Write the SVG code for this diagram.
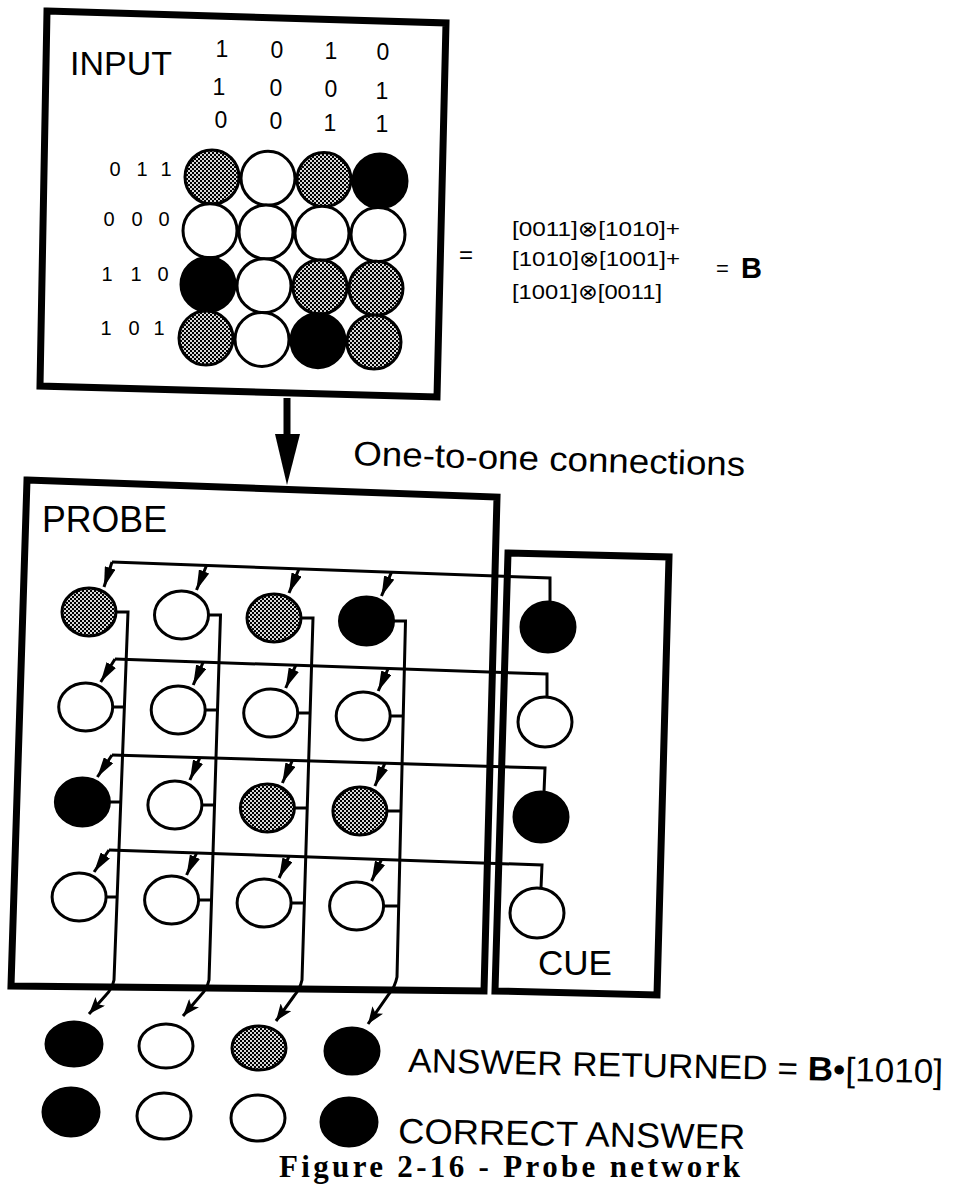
<svg xmlns="http://www.w3.org/2000/svg" width="960" height="1186" viewBox="0 0 960 1186">
<defs>
<pattern id="halftone" width="4" height="4" patternUnits="userSpaceOnUse">
<rect width="4" height="4" fill="#d8d8d8"/>
<rect width="2" height="2" fill="#000"/>
<rect x="2" y="2" width="2" height="2" fill="#000"/>
</pattern>
<marker id="wedge" viewBox="0 0 20 11" refX="20" refY="5.5" markerWidth="20" markerHeight="11" markerUnits="userSpaceOnUse" orient="auto"><path d="M0,0 L20,5.5 L0,11 z" fill="#000"/></marker>
<marker id="ans" viewBox="0 0 17 13" refX="17" refY="6.5" markerWidth="17" markerHeight="13" markerUnits="userSpaceOnUse" orient="auto"><path d="M0,0 L17,6.5 L0,13 L4,6.5 z" fill="#000"/></marker>
</defs>
<style>
.box{fill:none;stroke:#000;stroke-width:7;stroke-linejoin:miter}
.c{stroke:#000;stroke-width:3}
.w{fill:#fff}.b{fill:#000}.g{fill:url(#halftone)}
.ln{fill:none;stroke:#000;stroke-width:3}
.t{font-family:"Liberation Sans",Arial,"DejaVu Sans",sans-serif;fill:#000}
.cap{font-family:"Liberation Serif","Times New Roman",serif;font-weight:bold;fill:#000}
.d{font-size:23px;text-anchor:middle}
.r{font-size:20px;text-anchor:middle}
</style>
<rect width="960" height="1186" fill="#fff"/>

<g id="input">
<path class="box" d="M47 11 L446 23 L437 397 L40 386 Z"/>
<text class="t" x="70" y="75" font-size="33" textLength="102" lengthAdjust="spacingAndGlyphs">INPUT</text>
<g class="t d">
<text x="222" y="57">1</text><text x="277" y="58">0</text><text x="331" y="59">1</text><text x="383" y="60">0</text>
<text x="219" y="95">1</text><text x="276" y="96">0</text><text x="331" y="97">0</text><text x="382" y="99">1</text>
<text x="221" y="128">0</text><text x="276" y="129">0</text><text x="330" y="131">1</text><text x="382" y="132">1</text>
</g>
<g class="t r">
<text x="115" y="176">0</text><text x="142" y="176">1</text><text x="166" y="176">1</text>
<text x="109" y="226">0</text><text x="137" y="226">0</text><text x="164" y="226">0</text>
<text x="107" y="281">1</text><text x="136" y="281">1</text><text x="163" y="281">0</text>
<text x="106" y="335">1</text><text x="134" y="335">0</text><text x="159" y="335">1</text>
</g>
<circle class="c g" cx="212" cy="177" r="27"/><circle class="c w" cx="268" cy="178.3" r="27"/><circle class="c g" cx="324" cy="179.6" r="27"/><circle class="c b" cx="380" cy="180.9" r="27"/>
<circle class="c w" cx="210" cy="230.7" r="27"/><circle class="c w" cx="266" cy="232" r="27"/><circle class="c w" cx="322" cy="233.3" r="27"/><circle class="c w" cx="378" cy="234.6" r="27"/>
<circle class="c b" cx="208" cy="284.4" r="27"/><circle class="c w" cx="264" cy="285.7" r="27"/><circle class="c g" cx="320" cy="287" r="27"/><circle class="c g" cx="376" cy="288.3" r="27"/>
<circle class="c g" cx="206" cy="338.1" r="27"/><circle class="c w" cx="262" cy="339.4" r="27"/><circle class="c b" cx="318" cy="340.7" r="27"/><circle class="c g" cx="374" cy="342" r="27"/>
</g>

<g id="equation" class="t">
<text x="459" y="263" font-size="24">=</text>
<text x="512" y="236" font-size="21" textLength="168" lengthAdjust="spacingAndGlyphs">[0011]⊗[1010]+</text>
<text x="512" y="266" font-size="21" textLength="168" lengthAdjust="spacingAndGlyphs">[1010]⊗[1001]+</text>
<text x="512" y="299" font-size="21" textLength="150" lengthAdjust="spacingAndGlyphs">[1001]⊗[0011]</text>
<text x="716" y="276" font-size="22">=</text>
<text x="741" y="278" font-size="29" font-weight="bold">B</text>
</g>

<g id="probe">
<path class="box" d="M27 480 L497 497 L484 991 L11 986 Z" stroke-width="8"/>
<text class="t" x="42" y="532" font-size="36" textLength="125" lengthAdjust="spacingAndGlyphs">PROBE</text>
<ellipse class="c g" cx="89" cy="612" rx="27" ry="24"/><ellipse class="c w" cx="181.5" cy="615" rx="27" ry="24"/><ellipse class="c g" cx="274" cy="618" rx="27" ry="24"/><ellipse class="c b" cx="366.5" cy="621" rx="27" ry="24"/>
<ellipse class="c w" cx="85.7" cy="707" rx="27" ry="24"/><ellipse class="c w" cx="178.2" cy="710" rx="27" ry="24"/><ellipse class="c w" cx="270.7" cy="713" rx="27" ry="24"/><ellipse class="c w" cx="363.2" cy="716" rx="27" ry="24"/>
<ellipse class="c b" cx="82.4" cy="802" rx="27" ry="24"/><ellipse class="c w" cx="174.9" cy="805" rx="27" ry="24"/><ellipse class="c g" cx="267.4" cy="808" rx="27" ry="24"/><ellipse class="c g" cx="359.9" cy="811" rx="27" ry="24"/>
<ellipse class="c w" cx="79.1" cy="897" rx="27" ry="24"/><ellipse class="c w" cx="171.6" cy="900" rx="27" ry="24"/><ellipse class="c w" cx="264.1" cy="903" rx="27" ry="24"/><ellipse class="c w" cx="356.6" cy="906" rx="27" ry="24"/>
</g>

<g id="cue">
<path class="box" d="M508 553 L669 557 L657 995 L495 991 Z" stroke-width="8"/>
<text class="t" x="538" y="975" font-size="35" textLength="74" lengthAdjust="spacingAndGlyphs">CUE</text>
<ellipse class="c b" cx="548" cy="627" rx="27" ry="25"/>
<ellipse class="c w" cx="545" cy="722" rx="27" ry="25"/>
<ellipse class="c b" cx="541" cy="817" rx="27" ry="25"/>
<ellipse class="c w" cx="537" cy="913" rx="27" ry="25"/>
</g>

<g id="answer-returned">
<ellipse class="c b" cx="74" cy="1044" rx="28" ry="22"/>
<ellipse class="c w" cx="166" cy="1046" rx="27" ry="22"/>
<ellipse class="c g" cx="259" cy="1048" rx="27" ry="22"/>
<ellipse class="c b" cx="352" cy="1051" rx="27" ry="23"/>
<text class="t" x="408" y="1072" font-size="34" textLength="535" lengthAdjust="spacingAndGlyphs" transform="rotate(1.2 408 1072)">ANSWER RETURNED =  <tspan font-weight="bold">B</tspan>•[1010]</text>
</g>

<g id="correct-answer">
<ellipse class="c b" cx="71" cy="1112" rx="28" ry="24"/>
<ellipse class="c w" cx="164" cy="1116" rx="27" ry="23"/>
<ellipse class="c w" cx="258" cy="1118" rx="27" ry="23"/>
<ellipse class="c b" cx="349" cy="1122" rx="28" ry="24"/>
<text class="t" x="398" y="1143" font-size="35" textLength="347" lengthAdjust="spacingAndGlyphs" transform="rotate(1 398 1143)">CORRECT ANSWER</text>
</g>

<g id="connectors">
<path d="M287 398 L287 440" stroke="#000" stroke-width="7" fill="none"/>
<path d="M275 434 L300 434 L287 485 Z" fill="#000"/>
<text class="t" x="353" y="465" font-size="34" textLength="392" lengthAdjust="spacingAndGlyphs" transform="rotate(1.6 353 465)">One-to-one connections</text>

<path class="ln" d="M112 562 L550 578 L550 602"/>
<path class="ln" d="M115 659 L547 674 L547 697"/>
<path class="ln" d="M112 755 L545 768 L544 792"/>
<path class="ln" d="M109 850 L542 865 L541 888"/>

<g class="ln" marker-end="url(#wedge)">
<path d="M112 562 L104 587"/><path d="M206.5 565.5 L196.5 590"/><path d="M299 568.8 L289 593"/><path d="M391.5 572.2 L381.5 596"/>
<path d="M115 659 L100.7 682"/><path d="M203.2 662.1 L193.2 685"/><path d="M295.7 665.3 L285.7 688"/><path d="M388.2 668.5 L378.2 691"/>
<path d="M112 755 L97.4 777"/><path d="M199.9 757.6 L189.9 780"/><path d="M292.4 760.4 L282.4 783"/><path d="M384.9 763.2 L374.9 786"/>
<path d="M109 850 L94.1 872"/><path d="M196.6 853 L186.6 875"/><path d="M289.1 856.2 L279.1 878"/><path d="M381.6 859.4 L371.6 881"/>
</g>

<g class="ln" marker-end="url(#ans)">
<path d="M116 612 L128 612 L114 980 Q112 989 106 995 L89 1014"/>
<path d="M208.5 615 L220.5 615 L209 980 Q207 989 201 995 L183 1016"/>
<path d="M301 618 L313 618 L302 980 Q300 989 294 996 L276 1021"/>
<path d="M393.5 621 L405.5 621 L397 977 Q395 987 389 994 L368 1024"/>
</g>
<g class="ln">
<path d="M112.7 707 L124.4 707"/><path d="M205.2 710 L217.5 710"/><path d="M297.7 713 L310.1 713"/><path d="M390.2 716 L403.2 716"/>
<path d="M109.4 802 L120.8 802"/><path d="M201.9 805 L214.5 805"/><path d="M294.4 808 L307.2 808"/><path d="M386.9 811 L401 811"/>
<path d="M106.1 897 L117.2 897"/><path d="M198.6 900 L211.5 900"/><path d="M291.1 903 L304.3 903"/><path d="M383.6 906 L398.7 906"/>
</g>
</g>

<text class="cap" x="279" y="1177" font-size="31" textLength="461" lengthAdjust="spacing">Figure 2-16 - Probe network</text>
</svg>
